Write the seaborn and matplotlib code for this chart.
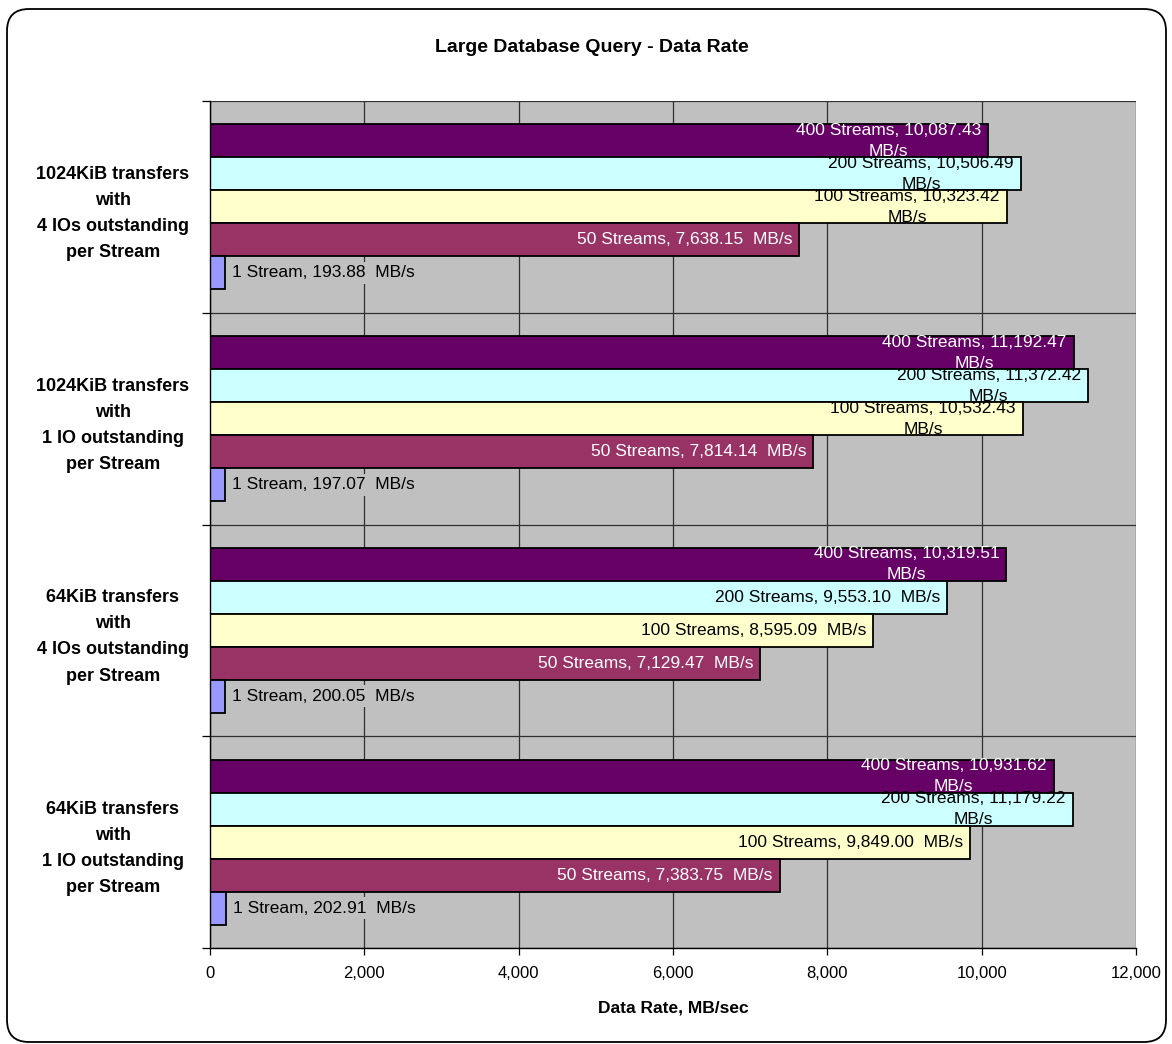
import numpy as np
import pandas as pd
import seaborn as sns
import matplotlib.pyplot as plt
from matplotlib.patches import FancyBboxPatch
from matplotlib.ticker import FuncFormatter, FixedLocator

configs = [
    "1024KiB transfers\nwith\n4 IOs outstanding\nper Stream",
    "1024KiB transfers\nwith\n1 IO outstanding\nper Stream",
    "64KiB transfers\nwith\n4 IOs outstanding\nper Stream",
    "64KiB transfers\nwith\n1 IO outstanding\nper Stream",
]
series = ["400 Streams", "200 Streams", "100 Streams", "50 Streams", "1 Stream"]

# MB/s per config, one list per stream count
rate_1 = [193.88, 197.07, 200.05, 202.91]
rate_50 = [7638.15, 7814.14, 7129.47, 7383.75]
rate_100 = [10323.42, 10532.43, 8595.09, 9849.00]
rate_200 = [10506.49, 11372.42, 9553.10, 11179.22]
rate_400 = [10087.43, 11192.47, 10319.51, 10931.62]

rates = {
    "400 Streams": rate_400,
    "200 Streams": rate_200,
    "100 Streams": rate_100,
    "50 Streams": rate_50,
    "1 Stream": rate_1,
}
colors = {
    "400 Streams": "#660066",
    "200 Streams": "#CCFFFF",
    "100 Streams": "#FFFFCC",
    "50 Streams": "#993366",
    "1 Stream": "#9999FF",
}
text_colors = {
    "400 Streams": "white",
    "200 Streams": "black",
    "100 Streams": "black",
    "50 Streams": "white",
    "1 Stream": "black",
}

rows = []
for s in series:
    for c, v in zip(configs, rates[s]):
        rows.append({"config": c, "streams": s, "rate": v})
df = pd.DataFrame(rows)

sns.set_theme(style="white")
plt.rcParams["font.family"] = ["Liberation Sans", "DejaVu Sans"]
plt.rcParams["text.color"] = "black"
plt.rcParams["axes.labelcolor"] = "black"
plt.rcParams["xtick.color"] = "black"
plt.rcParams["ytick.color"] = "black"

fig = plt.figure(figsize=(11.72, 10.44), dpi=100)
W, H = 1172, 1044
ax = fig.add_axes([210 / W, 1 - 948 / H, 926 / W, 847 / H])
ax.set_facecolor("#C0C0C0")

sns.barplot(data=df, y="config", x="rate", hue="streams", hue_order=series,
            order=configs, palette=colors, saturation=1, orient="h",
            width=0.78, edgecolor="black", linewidth=1.3, legend=False, ax=ax)

ax.set_xlim(0, 12000)
ax.set_ylim(3.5, -0.5)
ax.xaxis.set_major_locator(FixedLocator(np.arange(0, 12001, 2000)))
ax.xaxis.set_major_formatter(FuncFormatter(lambda v, p: f"{v:,.0f}"))
ax.yaxis.set_minor_locator(FixedLocator([-0.5, 0.5, 1.5, 2.5, 3.5]))
ax.set_axisbelow(True)
ax.grid(axis="x", which="major", color="#303030", lw=0.9)
ax.grid(axis="y", which="minor", color="#303030", lw=0.9)

for sp in ["top", "right"]:
    ax.spines[sp].set_visible(False)
for sp in ["left", "bottom"]:
    ax.spines[sp].set_color("black")
    ax.spines[sp].set_linewidth(1.0)

ax.tick_params(axis="x", which="major", length=5, width=0.9, color="black",
               direction="out", bottom=True, pad=8, labelsize=12,
               labelcolor="black")
ax.tick_params(axis="y", which="major", length=0, pad=70, labelsize=13,
               labelcolor="black")
ax.tick_params(axis="y", which="minor", length=6, width=0.9, color="black",
               direction="out", left=True)
for lab in ax.get_yticklabels():
    lab.set_ha("center")
    lab.set_multialignment("center")
    lab.set_fontweight("bold")
    lab.set_linespacing(1.7)

ax.set_ylabel("")
ax.set_xlabel("Data Rate, MB/sec", fontsize=12.5, fontweight="bold",
              labelpad=14, color="black")

# data labels at bar ends
for s, cont in zip(series, ax.containers):
    for bar, v in zip(cont, rates[s]):
        txt = f"{s}, {v:,.2f}  MB/s"
        if v >= 10000:
            txt = txt.replace("  ", "\n")
        yc = bar.get_y() + bar.get_height() / 2
        if s == "1 Stream":
            ax.annotate(txt, xy=(bar.get_width(), yc), xytext=(5, 0),
                        textcoords="offset points", ha="left", va="center",
                        fontsize=12.5, color="black", zorder=5,
                        bbox=dict(boxstyle="square,pad=0.2", fc="#C0C0C0", ec="none"))
        else:
            ax.annotate(txt, xy=(bar.get_width(), yc), xytext=(-5, 0),
                        textcoords="offset points", ha="right", va="center",
                        multialignment="center", linespacing=1.5,
                        fontsize=12.5, color=text_colors[s], zorder=5)

fig.text(592 / W, 1 - 48 / H, "Large Database Query - Data Rate",
         ha="center", va="center", fontsize=14, fontweight="bold", color="black")

border = FancyBboxPatch((0.07, 0.02), 11.59, 10.33,
                        boxstyle="round,pad=0,rounding_size=0.22",
                        transform=fig.dpi_scale_trans, fc="none", ec="black",
                        lw=1.3, clip_on=False)
fig.patches.append(border)

fig.savefig("out.png", dpi=100)
